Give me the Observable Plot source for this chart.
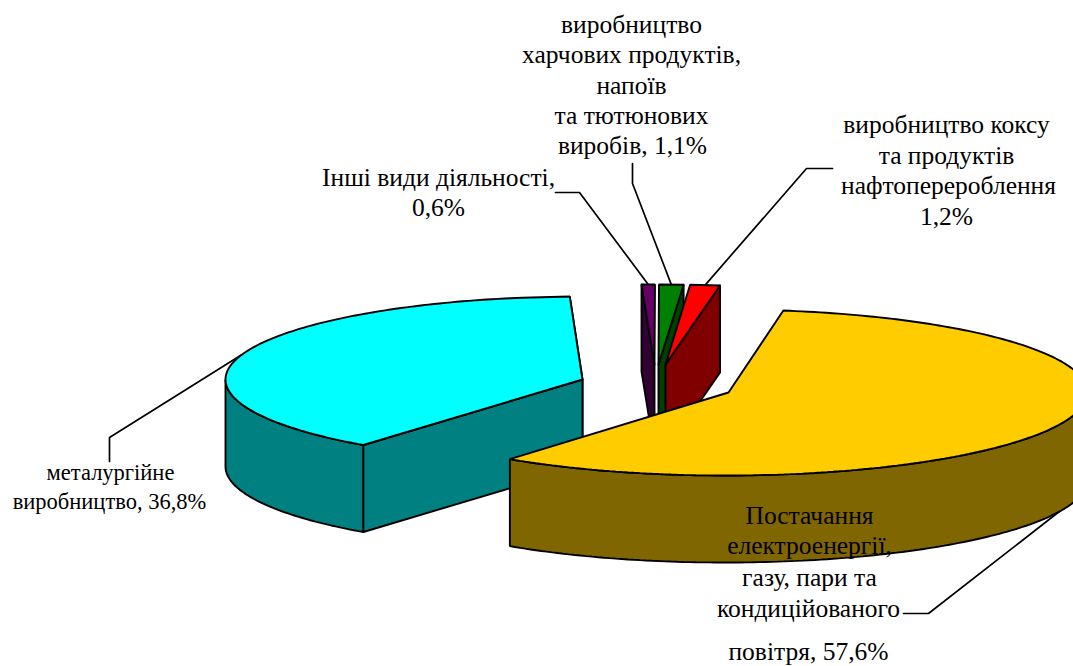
<!DOCTYPE html>
<html><head><meta charset="utf-8">
<script src="https://cdn.jsdelivr.net/npm/d3@7"></script>
<script src="https://cdn.jsdelivr.net/npm/@observablehq/plot@0.6"></script>
<style>html,body{margin:0;padding:0;background:#fff;overflow:hidden}</style>
</head><body><div id="chart"></div>
<script>
// data (clockwise from the top of the pie, shares in %)
const categories = ["Постачання електроенергії", "металургійне виробництво", "Інші види діяльності", "виробництво харчових продуктів", "виробництво коксу"];
const shares = [57.6, 36.8, 0.6, 1.1, 1.2];
const topColors = ["#FFCC00", "#00FFFF", "#660066", "#008000", "#FF0000"];
const sideColors = ["#806600", "#008080", "#330033", "#004000", "#800000"];

// label lines: [text, x, y]
const labelLines = [
  ["виробництво", 631, 24], ["харчових продуктів,", 631, 54], ["напоїв", 631, 85], ["та тютюнових", 631, 115], ["виробів, 1,1%", 632, 145],
  ["Інші види діяльності,", 438, 177], ["0,6%", 438, 207],
  ["виробництво коксу", 946, 124], ["та продуктів", 946, 155], ["нафтоперероблення", 948, 185], ["1,2%", 946, 216],
  ["Постачання", 809, 515], ["електроенергії,", 809, 545], ["газу, пари та", 809, 577], ["кондиційованого", 808, 608], ["повітря, 57,6%", 808, 651]
];
const smallLabelLines = [["металургійне", 110, 472], ["виробництво, 36,8%", 109, 501]];

// pie layout
const depth = 87, deg = Math.PI / 180;
const bigT0 = -80.8, smallT0 = -81, cyanGap = 1.3, chordTrim = 0.6;
const toAngle = s => s * 3.6;
const rad = t => t * deg;
const rimPt = (cx, cy, rx, ry, t, dy = 0) => ({x: cx + rx * Math.cos(rad(t)), y: cy + ry * Math.sin(rad(t)) + dy});
const arc = (g, a, b, dy = 0) => {
  const n = Math.max(2, Math.ceil(Math.abs(b - a)));
  return d3.range(n + 1).map(i => rimPt(g.cx, g.cy, g.rx, g.ry, a + (b - a) * i / n, dy));
};
const shift = (p, dy) => ({x: p.x, y: p.y + dy});
const close = pts => [...pts, pts[0]];

// angles from the values
const yellowA = bigT0, yellowB = yellowA + toAngle(shares[0]);
const cyanA = yellowB + cyanGap, cyanB = cyanA + toAngle(shares[1]);
const redB = smallT0, redA = redB - toAngle(shares[4]);
const greenB = redA, greenA = greenB - toAngle(shares[3]);
const purpleB = greenA, purpleA = purpleB - toAngle(shares[2]);
const chordEnd = purpleA + 360 - chordTrim; // unlabelled remainder of the circle closes the cyan slice with a chord

const gYellow = {ax: 728, cx: 725, cy: 392, rx: 362, ry: 83};
const gCyan   = {cx: 582, cy: 379, rx: 357, ry: 83};
const gPurple = {ax: 654, cx: 650, cy: 364, rx: 357, ry: 80};
const gGreen  = {ax: 658, cx: 654, cy: 364, rx: 357, ry: 80};
const gRed    = {ax: 665, cx: 657, cy: 364, rx: 400, ry: 80};

const poly = (pts, fill) => Plot.line(close(pts), {x: "x", y: "y", fill, stroke: "#000", strokeWidth: 1.9, strokeLinejoin: "miter", clip: true});

// cyan slice
const cyanApex = {x: gCyan.cx, y: gCyan.cy};
const cyanChordPt = rimPt(gCyan.cx, gCyan.cy, gCyan.rx, gCyan.ry, chordEnd);
const cyanRimTop = arc(gCyan, cyanA, cyanB);
const cyanTop = [cyanApex, ...cyanRimTop, cyanChordPt];
const cyanOuterA = arc(gCyan, cyanA, 180);
const cyanOuter = [...cyanOuterA, ...cyanOuterA.map(p => shift(p, depth)).reverse()];
const cyanCut = [cyanApex, cyanRimTop[0], shift(cyanRimTop[0], depth), shift(cyanApex, depth)];
const cyanBackCut = [cyanApex, cyanChordPt, shift(cyanChordPt, depth), shift(cyanApex, depth)];

// yellow slice
const yApex = {x: gYellow.ax, y: gYellow.cy};
const yTop = [yApex, ...arc(gYellow, yellowA, yellowB)];
const yOuterA = arc(gYellow, 0, yellowB);
const yOuter = [...yOuterA, ...yOuterA.map(p => shift(p, depth)).reverse()];

// small slices
function small(g, a, b, fill, side, wallAt) {
  const apex = {x: g.ax, y: g.cy};
  const r1 = rimPt(g.cx, g.cy, g.rx, g.ry, a), r2 = rimPt(g.cx, g.cy, g.rx, g.ry, b);
  const wallP = wallAt === "a" ? r1 : r2;
  return [
    poly([wallP, shift(wallP, depth), shift(apex, depth), apex], side),
    poly([apex, r1, r2], fill)
  ];
}

// leader lines: from rim at each slice's mid-angle via fixed elbows
const mid = (a, b) => (a + b) / 2;
const leaders = [
  [rimPt(gCyan.cx, gCyan.cy, gCyan.rx, gCyan.ry, mid(cyanA, cyanB) + 3), {x: 109, y: 437}, {x: 109, y: 461}],
  [rimPt(gPurple.cx, gPurple.cy, gPurple.rx, gPurple.ry, mid(purpleA, purpleB)), {x: 579, y: 192}, {x: 555, y: 192}],
  [rimPt(gGreen.cx, gGreen.cy, gGreen.rx, gGreen.ry, mid(greenA, greenB)), {x: 632, y: 183}, {x: 632, y: 163}],
  [rimPt(gRed.cx, gRed.cy, gRed.rx, gRed.ry, mid(redA, redB)), {x: 806, y: 168}, {x: 832, y: 168}],
  [rimPt(gYellow.cx, gYellow.cy, gYellow.rx, gYellow.ry, mid(yellowA, yellowB), depth), {x: 928, y: 613}, {x: 903, y: 613}]
];
const leaderMark = pts => Plot.line(pts, {x: "x", y: "y", stroke: "#000", strokeWidth: 1.7});

const textMark = (rows, size) => Plot.text(rows, {
  x: d => d[1], y: d => d[2], text: d => d[0],
  fontFamily: "Liberation Serif", fontSize: size, fill: "#000", textAnchor: "middle", lineAnchor: "middle"
});

const chart = Plot.plot({
  width: 1073, height: 666, margin: 0,
  x: {domain: [0, 1073], range: [0, 1073], axis: null},
  y: {domain: [0, 666], range: [0, 666], axis: null},
  style: {background: "#fff"},
  marks: [
    leaderMark(leaders[0]), leaderMark(leaders[1]), leaderMark(leaders[2]), leaderMark(leaders[3]),
    poly(cyanBackCut, sideColors[1]),
    poly(cyanOuter, sideColors[1]),
    poly(cyanCut, sideColors[1]),
    poly(cyanTop, topColors[1]),
    ...small(gPurple, purpleA, purpleB, topColors[2], sideColors[2], "a"),
    ...small(gGreen, greenA, greenB, topColors[3], sideColors[3], "b"),
    ...small(gRed, redA, redB, topColors[4], sideColors[4], "b"),
    poly(yOuter, sideColors[0]),
    poly(yTop, topColors[0]),
    leaderMark(leaders[4]),
    textMark(labelLines, 25.5),
    textMark(smallLabelLines, 22.5)
  ]
});
document.getElementById("chart").append(chart);
</script></body></html>
